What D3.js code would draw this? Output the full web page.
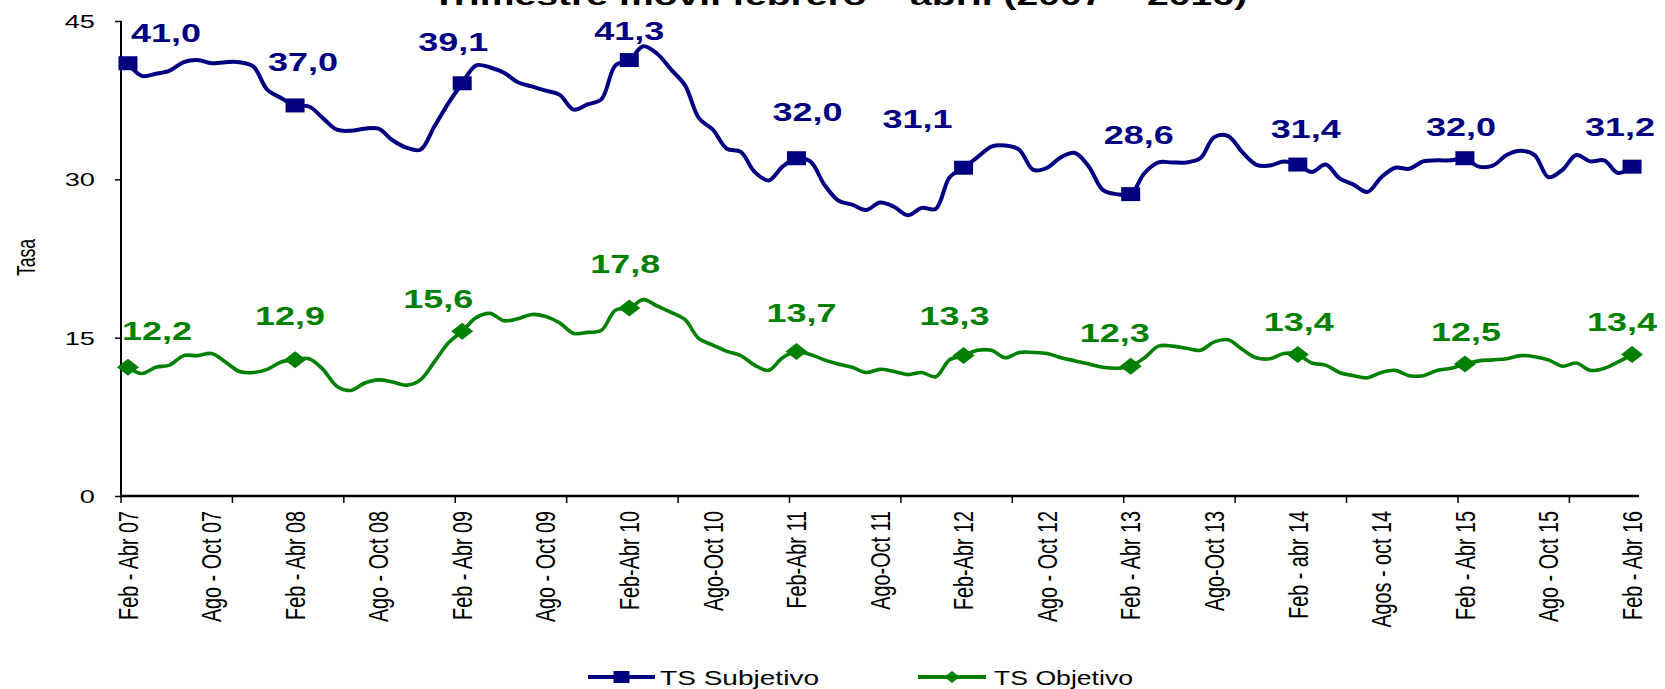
<!DOCTYPE html>
<html>
<head>
<meta charset="utf-8">
<script src="https://cdn.jsdelivr.net/npm/d3@7"></script>
<style>
  body { margin: 0; background: #fff; }
  text { font-family: Arial, "Liberation Sans", sans-serif; }
</style>
</head>
<body>
<div id="chart"></div>
<script>
// Data: moving-quarter rates, Feb-Abr 2007 .. Feb-Abr 2016 (109 periods)
let titleText = "Trimestre móvil febrero – abril (2007 – 2016)";
let yAxisTitle = "Tasa";
let seriesNames = ["TS Subjetivo", "TS Objetivo"];
let yTicks = [0, 15, 30, 45];

// one label every 6 periods
let tickLabels = [
  "Feb - Abr 07", "Ago - Oct 07", "Feb - Abr 08", "Ago - Oct 08", "Feb - Abr 09",
  "Ago - Oct 09", "Feb-Abr 10", "Ago-Oct 10", "Feb-Abr 11", "Ago-Oct 11",
  "Feb-Abr 12", "Ago - Oct 12", "Feb - Abr 13", "Ago-Oct 13", "Feb - abr 14",
  "Agos - oct 14", "Feb - Abr 15", "Ago - Oct 15", "Feb - Abr 16"
];

let subjetivo = [
  41.0, 39.8, 40.0, 40.3, 41.1, 41.3, 41.0, 41.1, 41.1, 40.7, 38.5, 37.7,
  37.0, 36.9, 35.8, 34.7, 34.6, 34.8, 34.8, 33.7, 33.0, 32.8, 35.0, 37.2,
  39.1, 40.8, 40.6, 40.1, 39.2, 38.8, 38.4, 38.0, 36.6, 37.1, 37.6, 40.8,
  41.3, 42.6, 41.9, 40.4, 38.9, 35.8, 34.7, 32.9, 32.6, 30.7, 29.9, 31.2,
  32.0, 31.7, 29.5, 28.0, 27.6, 27.1, 27.8, 27.4, 26.6, 27.3, 27.2, 30.2,
  31.1, 32.1, 33.1, 33.2, 32.8, 30.9, 31.1, 32.1, 32.5, 31.2, 29.0, 28.6,
  28.6, 30.6, 31.6, 31.6, 31.6, 32.0, 34.0, 34.1, 32.6, 31.4, 31.3, 31.7,
  31.4, 30.7, 31.4, 30.1, 29.5, 28.8, 30.2, 31.1, 31.0, 31.7, 31.8, 31.8,
  32.0, 31.2, 31.3, 32.3, 32.7, 32.3, 30.2, 30.9, 32.3, 31.7, 31.8, 30.6,
  31.2
];

let objetivo = [
  12.2, 11.6, 12.2, 12.4, 13.3, 13.3, 13.5, 12.7, 11.8, 11.7, 12.0, 12.7,
  12.9, 13.0, 12.0, 10.4, 10.0, 10.7, 11.0, 10.8, 10.5, 11.0, 12.7, 14.5,
  15.6, 16.9, 17.3, 16.6, 16.8, 17.2, 17.0, 16.4, 15.4, 15.5, 15.7, 17.6,
  17.8, 18.6, 18.0, 17.4, 16.7, 14.9, 14.3, 13.7, 13.3, 12.4, 11.9, 13.1,
  13.7, 13.4, 12.9, 12.5, 12.2, 11.7, 12.0, 11.8, 11.5, 11.7, 11.3, 12.9,
  13.3, 13.8, 13.8, 13.1, 13.6, 13.6, 13.5, 13.1, 12.8, 12.5, 12.2, 12.1,
  12.3, 13.1, 14.2, 14.2, 14.0, 13.8, 14.6, 14.8, 13.9, 13.1, 13.0, 13.5,
  13.4, 12.6, 12.4, 11.7, 11.4, 11.2, 11.7, 11.9, 11.4, 11.4, 11.9, 12.1,
  12.5, 12.8, 12.9, 13.0, 13.3, 13.2, 12.9, 12.3, 12.6, 11.9, 12.1, 12.7,
  13.4
];

// svg attributes
let svgWidth = 1665;
let svgHeight = 689;
let stretch = 1.47; // text in the original is widened horizontally

let svg = d3.select("#chart")
  .append("svg")
  .attr("width", svgWidth)
  .attr("height", svgHeight);

let n = subjetivo.length;
let x = d3.scalePoint()
  .domain(d3.range(n))
  .range([121, 1639])
  .padding(0.5);
let step = x.step();

let y = d3.scaleLinear()
  .domain([0, 45])
  .range([496, 21]);

let fmt = d3.formatLocale({decimal: ",", thousands: ".", grouping: [3], currency: ["", ""]}).format(".1f");

// title (mostly cut off at the top, as in the original)
svg.append("text")
  .attr("x", 432)
  .attr("y", 5)
  .attr("font-size", 26)
  .attr("font-weight", "bold")
  .attr("textLength", 815)
  .attr("lengthAdjust", "spacingAndGlyphs")
  .text(titleText);

// y axis
let yAxis = svg.append("g")
  .attr("transform", `translate(${x.range()[0]},0)`)
  .call(d3.axisLeft(y).tickValues(yTicks).tickSize(6).tickFormat(d3.format("d")));
yAxis.select(".domain").attr("stroke", "#000").attr("stroke-width", 2)
  .attr("d", `M0,${y(0)}V${y(45)}`);
yAxis.selectAll(".tick line").attr("stroke", "#000").attr("stroke-width", 1.5);
yAxis.selectAll(".tick text")
  .attr("x", null)
  .attr("dy", null)
  .attr("font-size", 18.5)
  .attr("fill", "#000")
  .attr("text-anchor", "end")
  .attr("transform", `translate(-26,6.5) scale(${stretch},1)`);

svg.append("text")
  .attr("transform", `translate(26,${(y(15) + y(30)) / 2 - 1}) rotate(-90) scale(1,${stretch})`)
  .attr("text-anchor", "middle")
  .attr("dy", "0.35em")
  .attr("font-size", 17.6)
  .text(yAxisTitle);

// x axis: line, tick marks every 8 periods, labels every 6 periods
let xAxis = svg.append("g");
xAxis.append("line")
  .attr("x1", x.range()[0]).attr("x2", x.range()[1])
  .attr("y1", y(0)).attr("y2", y(0))
  .attr("stroke", "#000").attr("stroke-width", 2.5);

xAxis.selectAll(".xtick")
  .data(d3.range(0, n, 8))
  .enter()
  .append("line")
  .attr("class", "xtick")
  .attr("x1", d => x(d) - step / 2).attr("x2", d => x(d) - step / 2)
  .attr("y1", y(0)).attr("y2", y(0) + 7)
  .attr("stroke", "#000").attr("stroke-width", 1.5);

xAxis.selectAll(".xlab")
  .data(tickLabels)
  .enter()
  .append("text")
  .attr("class", "xlab")
  .attr("transform", (d, i) => `translate(${x(i * 6)},${y(0) + 15}) rotate(-90) scale(1,1.4)`)
  .attr("text-anchor", "end")
  .attr("dy", "0.35em")
  .attr("font-size", 19.8)
  .text(d => d);

// series
let series = [
  {name: seriesNames[0], values: subjetivo, color: "#000080", width: 4, marker: "square",
   shift: [[38,-30],[8,-43],[-9,-41],[0,-29],[11,-46],[-46,-48],[8,-59],[8,-35],[-4,-31],[-12,-39]]},
  {name: seriesNames[1], values: objetivo, color: "#008000", width: 3.6, marker: "diamond",
   shift: [[29,-36],[-5,-43],[-24,-32],[-4,-44],[5,-38],[-9,-39],[-16,-33],[1,-32],[1,-32],[-10,-32]]}
];

let line = d3.line()
  .x((d, i) => x(i))
  .y(d => y(d))
  .curve(d3.curveCatmullRom.alpha(0.5));

function drawMarker(sel, type, color, w, h) {
  if (type === "square") {
    sel.append("rect")
      .attr("x", -w / 2).attr("y", -h / 2)
      .attr("width", w).attr("height", h)
      .attr("fill", color);
  } else {
    sel.append("path")
      .attr("d", `M${-w / 2},0L0,${-h / 2}L${w / 2},0L0,${h / 2}Z`)
      .attr("fill", color);
  }
}

let marked = d3.range(0, n, 12);

series.forEach(s => {
  svg.append("path")
    .datum(s.values)
    .attr("fill", "none")
    .attr("stroke", s.color)
    .attr("stroke-width", s.width)
    .attr("stroke-linejoin", "round")
    .attr("d", line);

  let mk = svg.selectAll(null)
    .data(marked)
    .enter()
    .append("g")
    .attr("transform", i => `translate(${x(i)},${y(s.values[i])})`);
  if (s.marker === "square") drawMarker(mk, "square", s.color, 19, 14);
  else drawMarker(mk, "diamond", s.color, 22, 17);

  svg.selectAll(null)
    .data(marked)
    .enter()
    .append("text")
    .attr("x", (i, k) => x(i) + s.shift[k][0])
    .attr("y", (i, k) => y(s.values[i]) + s.shift[k][1] + 8.5)
    .attr("text-anchor", "middle")
    .attr("font-size", 25.5)
    .attr("font-weight", "bold")
    .attr("fill", s.color)
    .attr("textLength", 70)
    .attr("lengthAdjust", "spacingAndGlyphs")
    .text(i => fmt(s.values[i]));
});

// legend
let legendY = 677;
let legendItems = [
  {x0: 588, x1: 655, tx: 660, tl: 159},
  {x0: 918, x1: 986, tx: 994, tl: 139}
];
legendItems.forEach((l, k) => {
  let s = series[k];
  let g = svg.append("g");
  g.append("line")
    .attr("x1", l.x0).attr("x2", l.x1)
    .attr("y1", legendY).attr("y2", legendY)
    .attr("stroke", s.color).attr("stroke-width", 4);
  let m = g.append("g").attr("transform", `translate(${(l.x0 + l.x1) / 2},${legendY})`);
  if (s.marker === "square") drawMarker(m, "square", s.color, 16, 12);
  else drawMarker(m, "diamond", s.color, 15, 12);
  g.append("text")
    .attr("x", l.tx)
    .attr("y", legendY + 7.5)
    .attr("font-size", 20)
    .attr("textLength", l.tl)
    .attr("lengthAdjust", "spacingAndGlyphs")
    .text(s.name);
});
</script>
</body>
</html>
